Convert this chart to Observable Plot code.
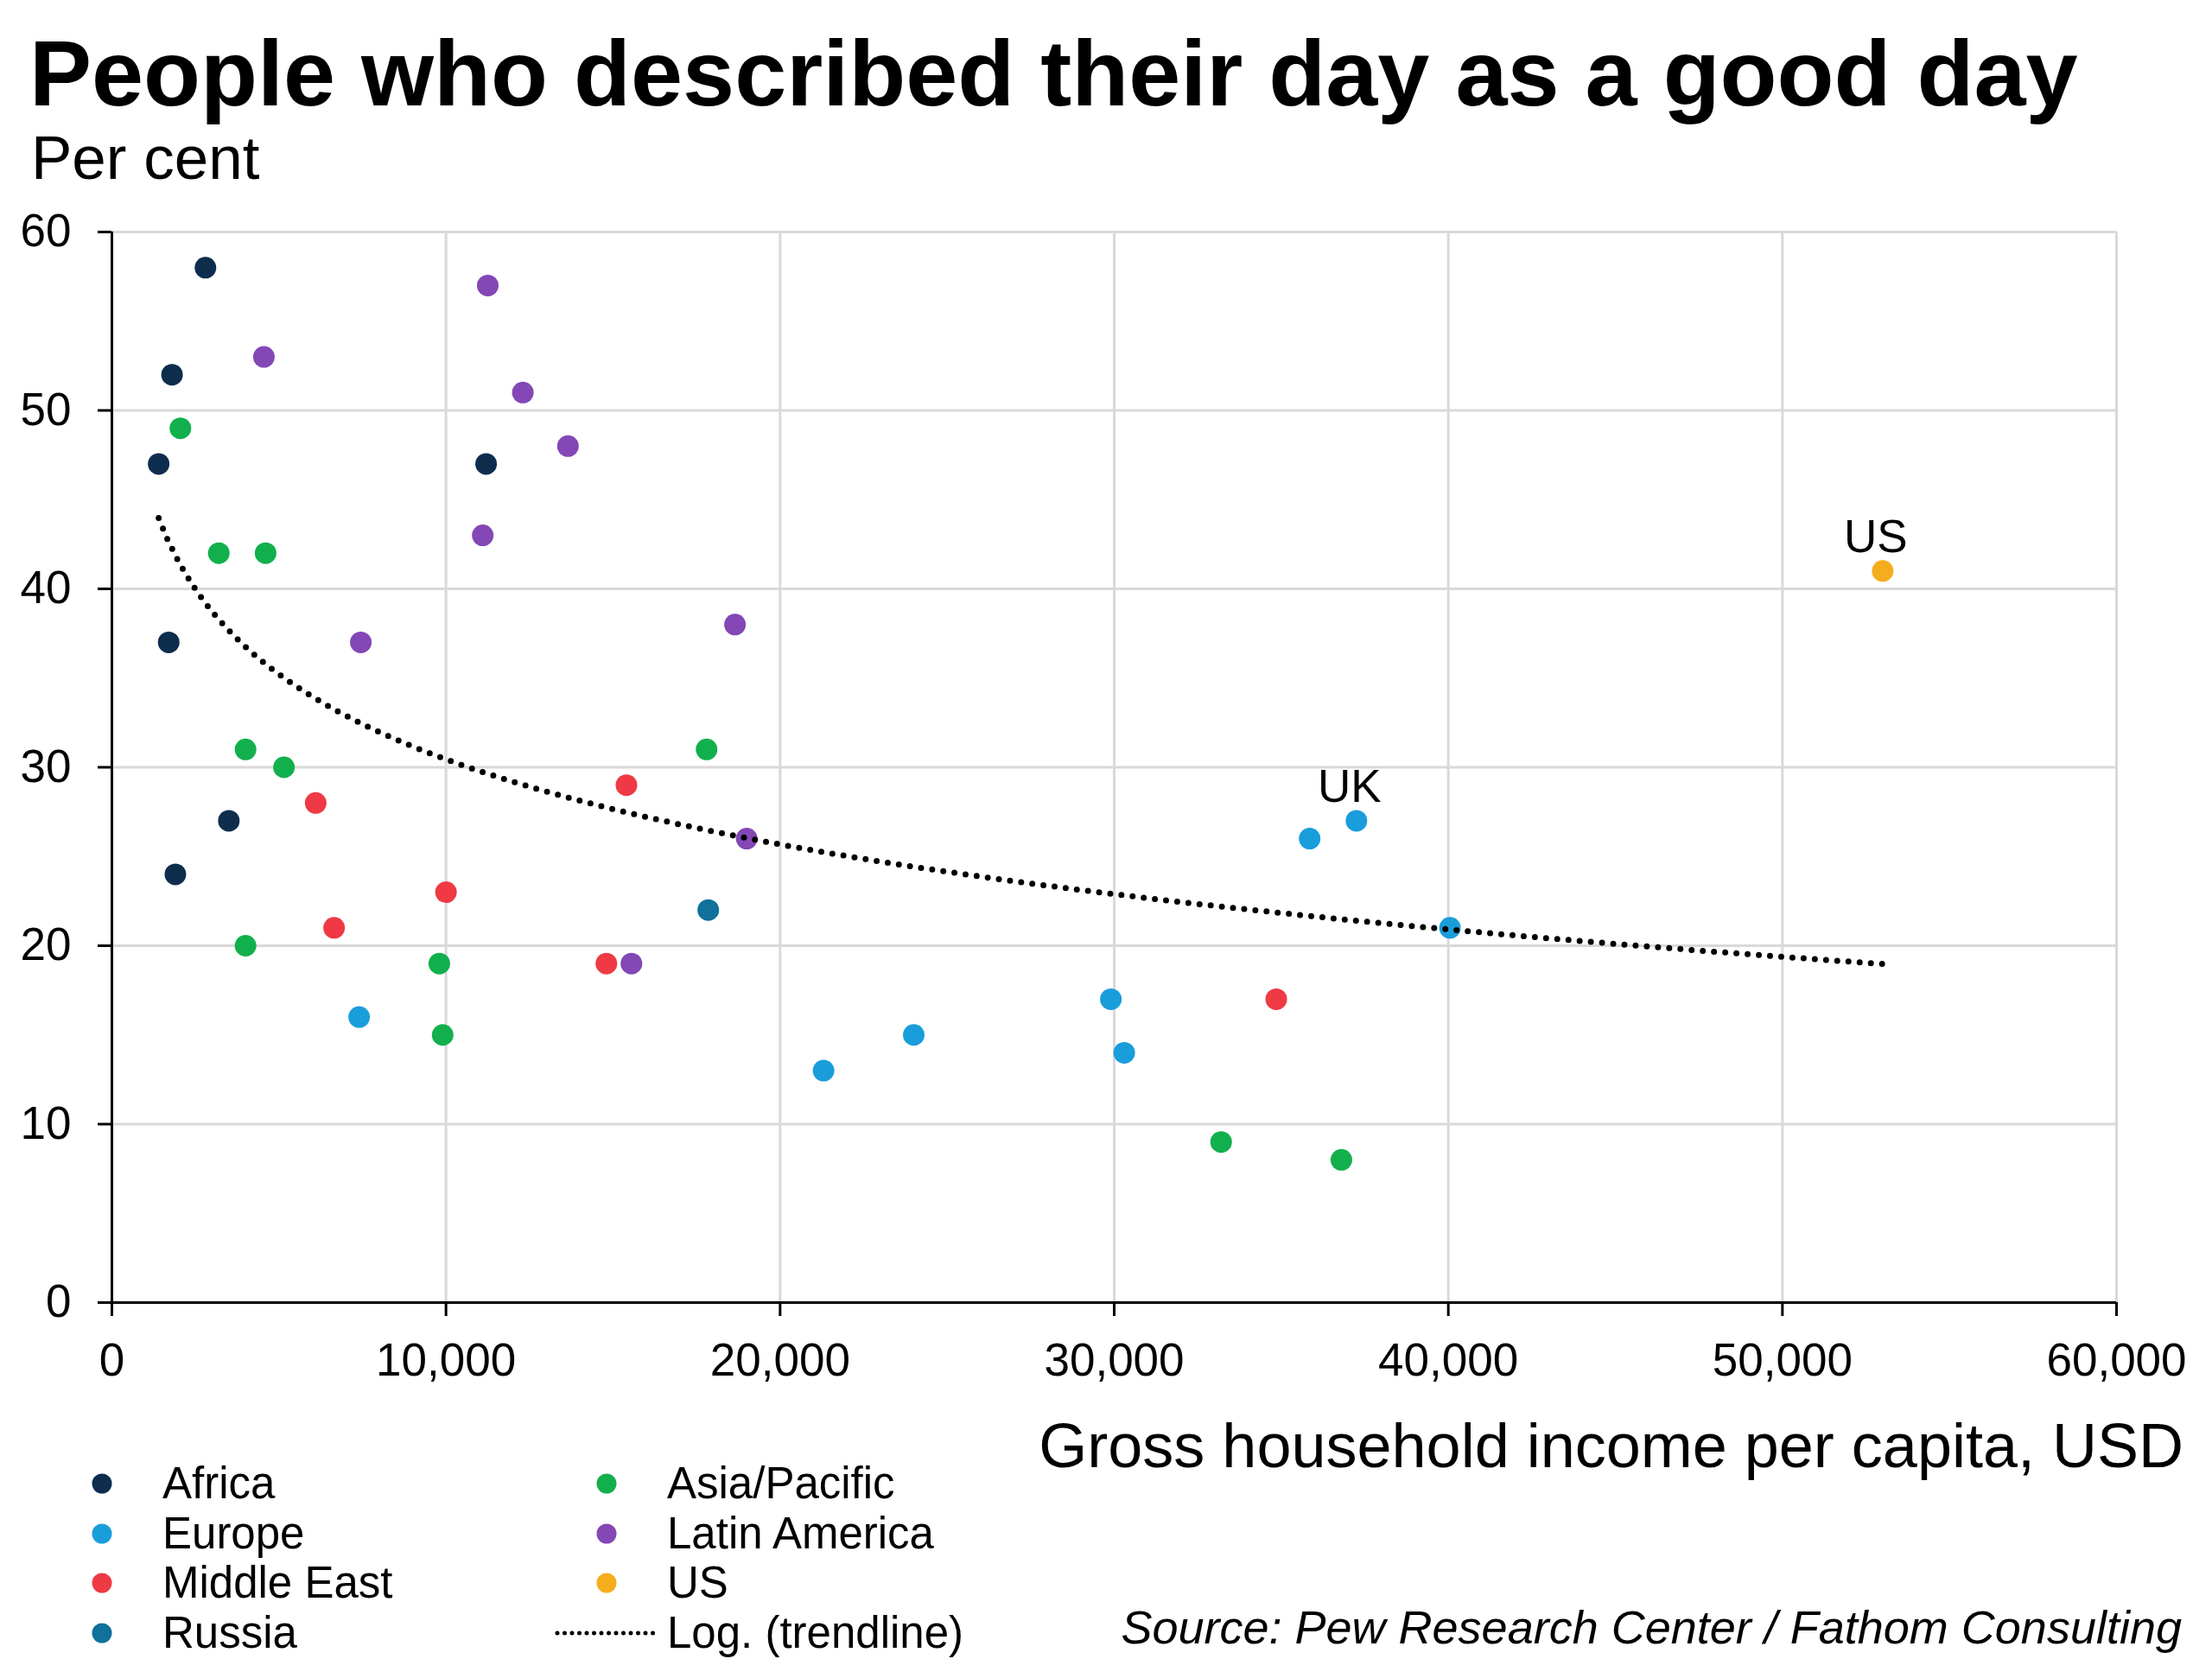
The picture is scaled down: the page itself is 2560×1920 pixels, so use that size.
<!DOCTYPE html>
<html><head><meta charset="utf-8">
<script src="https://cdn.jsdelivr.net/npm/d3@7"></script>
<script src="https://cdn.jsdelivr.net/npm/@observablehq/plot@0.6"></script>
<style>
html,body{margin:0;padding:0;background:#fff}
body{width:2560px;height:1920px;position:relative;overflow:hidden;font-family:"Liberation Sans",Arial,sans-serif;color:#000}
.abs{position:absolute;white-space:nowrap;line-height:1}
</style></head><body>
<div id="chart" style="position:absolute;left:0;top:0"></div>
<div class="abs" style="left:34px;top:31px;font-size:108px;font-weight:bold">People who described their day as a good day</div>
<div class="abs" style="left:36px;top:147px;font-size:71px">Per cent</div>
<div class="abs" style="right:33px;top:1637px;font-size:72px">Gross household income per capita, USD</div>
<div class="abs" style="right:35px;top:1856px;font-size:54px;font-style:italic">Source: Pew Research Center / Fathom Consulting</div>
<div id="legend"></div>
<script>
// Regions and colours
const regions = ["Africa","Europe","Middle East","Russia","Asia/Pacific","Latin America","US"];
const regionColors = ["#0e2d4d","#1a9ddb","#ef3a45","#10719a","#12b04c","#8347b6","#f5ad1e"];

// Gross household income per capita (USD) and % good day, by region
const africaIncome = [2800, 1800, 1400, 11200, 1700, 3500, 1900];
const africaGood   = [58, 52, 47, 47, 37, 27, 24];

const europeIncome = [7400, 21300, 24000, 29900, 30300, 35850, 37250, 40050];
const europeGood   = [16, 13, 15, 17, 14, 26, 27, 21];
const europeNames  = ["", "", "", "", "", "", "UK", ""];

const middleEastIncome = [6100, 6650, 10000, 15400, 14800, 34850];
const middleEastGood   = [28, 21, 23, 29, 19, 17];

const russiaIncome = [17850];
const russiaGood   = [22];

const asiaIncome = [2050, 3200, 4600, 4000, 5150, 17800, 4000, 9800, 9900, 33200, 36800];
const asiaGood   = [49, 42, 42, 31, 30, 31, 20, 19, 15, 9, 8];

const latamIncome = [11250, 4550, 12300, 13650, 11100, 7450, 18650, 19000, 15550];
const latamGood   = [57, 53, 51, 48, 43, 37, 38, 26, 19];

const usIncome = [53000];
const usGood   = [41];
const usNames  = ["US"];

const xTicks = [0, 10000, 20000, 30000, 40000, 50000, 60000];
const yTicks = [0, 10, 20, 30, 40, 50, 60];

// Build table
const rows = [];
function add(region, xs, ys, names) {
  xs.forEach((x, i) => rows.push({region, income: x, good: ys[i], name: names ? names[i] : ""}));
}
add("Africa", africaIncome, africaGood);
add("Europe", europeIncome, europeGood, europeNames);
add("Middle East", middleEastIncome, middleEastGood);
add("Russia", russiaIncome, russiaGood);
add("Asia/Pacific", asiaIncome, asiaGood);
add("Latin America", latamIncome, latamGood);
add("US", usIncome, usGood, usNames);

// Logarithmic trendline (least squares on ln x)
const lx = rows.map(d => Math.log(d.income)), ly = rows.map(d => d.good);
const mx = d3.mean(lx), my = d3.mean(ly);
const b = d3.sum(lx.map((v, i) => (v - mx) * (ly[i] - my))) / d3.sum(lx.map(v => (v - mx) ** 2));
const a = my - b * mx;
const [x0, x1] = d3.extent(rows, d => d.income);
const trend = d3.range(0, 201).map(i => {
  const x = x0 + (x1 - x0) * i / 200;
  return {income: x, good: a + b * Math.log(x)};
});

const fmt = d3.format(",");
const chart = Plot.plot({
  width: 2560,
  height: 1720,
  marginLeft: 129,
  marginRight: 111,
  marginTop: 268,
  marginBottom: 213,
  x: {domain: [0, 60000]},
  y: {domain: [0, 60]},
  color: {domain: regions, range: regionColors},
  style: {fontFamily: "'Liberation Sans', Arial, sans-serif", background: "transparent", color: "#000", overflow: "visible"},
  marks: [
    Plot.gridX(xTicks, {stroke: "#d9d9d9", strokeOpacity: 1, strokeWidth: 3}),
    Plot.gridY(yTicks, {stroke: "#d9d9d9", strokeOpacity: 1, strokeWidth: 3}),
    Plot.axisX(xTicks, {tickSize: 16, tickPadding: 31, tickFormat: fmt, label: null, fontSize: 53, strokeWidth: 3}),
    Plot.axisY(yTicks, {tickSize: 16, tickPadding: 31, label: null, fontSize: 53, strokeWidth: 3}),
    Plot.ruleX([0], {stroke: "#000", strokeWidth: 3}),
    Plot.ruleY([0], {stroke: "#000", strokeWidth: 3}),
    Plot.dot(rows, {x: "income", y: "good", fill: "region", r: 12.5}),
    Plot.line(trend, {x: "income", y: "good", stroke: "#000", strokeWidth: 7, strokeDasharray: "0,13", strokeLinecap: "round"}),
    Plot.text(rows.filter(d => d.name), {x: "income", y: "good", text: "name", fontSize: 53, dx: -8, dy: -39, fill: "#000"})
  ]
});
document.getElementById("chart").appendChild(chart);

// Legend
const legendCols = [["Africa","Europe","Middle East","Russia"],["Asia/Pacific","Latin America","US","trend"]];
const colDotX = [118, 702], colTextX = [188, 772];
const legendFont = 51;
const rowBase = [1735, 1792.5, 1850, 1907.5];
const leg = document.getElementById("legend");
legendCols.forEach((col, ci) => col.forEach((name, ri) => {
  const base = rowBase[ri];
  const cy = base - 18;
  const sw = document.createElementNS("http://www.w3.org/2000/svg", "svg");
  sw.setAttribute("style", "position:absolute;overflow:visible");
  if (name === "trend") {
    sw.setAttribute("width", 120); sw.setAttribute("height", 10);
    sw.style.left = "642px"; sw.style.top = (cy - 5) + "px";
    sw.innerHTML = '<line x1="3" y1="5" x2="117" y2="5" stroke="#000" stroke-width="5" stroke-dasharray="0,8.5" stroke-linecap="round"/>';
  } else {
    sw.setAttribute("width", 24); sw.setAttribute("height", 24);
    sw.style.left = (colDotX[ci] - 12) + "px"; sw.style.top = (cy - 12) + "px";
    sw.innerHTML = `<circle cx="12" cy="12" r="11.5" fill="${regionColors[regions.indexOf(name)]}"/>`;
  }
  leg.appendChild(sw);
  const t = document.createElement("div");
  t.className = "abs";
  t.style.fontSize = legendFont + "px";
  t.style.lineHeight = "0.9";
  t.style.left = colTextX[ci] + "px";
  t.style.top = (base - 0.7965 * legendFont) + "px";
  t.textContent = name === "trend" ? "Log. (trendline)" : name;
  leg.appendChild(t);
}));
</script>
</body></html>
